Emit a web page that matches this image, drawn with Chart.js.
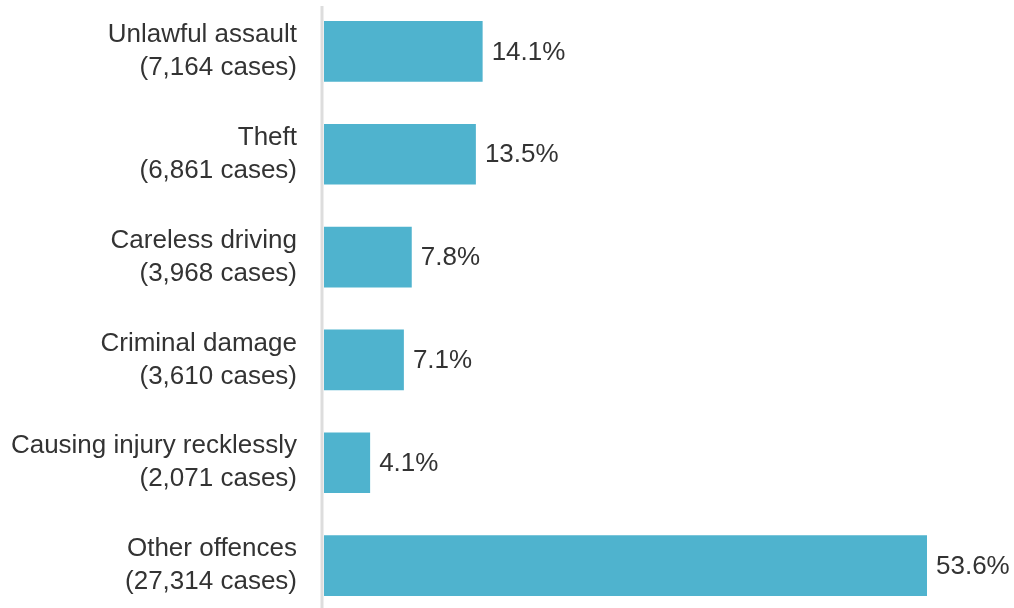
<!DOCTYPE html>
<html>
<head>
<meta charset="utf-8">
<script src="https://cdn.jsdelivr.net/npm/chart.js@4/dist/chart.umd.min.js"></script>
<style>
  html, body { margin: 0; padding: 0; background: #fff; overflow: hidden; }
  #wrap { position: relative; width: 1014px; height: 617px; }
</style>
</head>
<body>
<div id="wrap"><canvas id="c"></canvas></div>
<script>
// Offence categories, case counts and share of all cases (%)
const offences = ["Unlawful assault", "Theft", "Careless driving", "Criminal damage", "Causing injury recklessly", "Other offences"];
const caseCounts = ["7,164", "6,861", "3,968", "3,610", "2,071", "27,314"];
const shares = [14.1, 13.5, 7.8, 7.1, 4.1, 53.6];

const labels = offences.map((name, i) => [name, "(" + caseCounts[i] + " cases)"]);

const FONT = "'Liberation Sans', Arial, sans-serif";
const TEXT = "#333333";

// Percentage printed just past the end of each bar
const valueLabels = {
  id: "valueLabels",
  afterDatasetsDraw(chart) {
    const ctx = chart.ctx;
    const meta = chart.getDatasetMeta(0);
    ctx.save();
    ctx.font = "26px " + FONT;
    ctx.fillStyle = TEXT;
    ctx.textAlign = "left";
    ctx.textBaseline = "middle";
    meta.data.forEach((bar, i) => {
      ctx.fillText(shares[i].toFixed(1) + "%", bar.x + 9, bar.y + 1);
    });
    ctx.restore();
  }
};

// Light vertical baseline at the start of the bars
const baseline = {
  id: "baseline",
  beforeDatasetsDraw(chart) {
    const { ctx, chartArea } = chart;
    ctx.save();
    ctx.strokeStyle = "#dddddd";
    ctx.lineWidth = 3;
    ctx.beginPath();
    ctx.moveTo(chartArea.left - 2, chartArea.top + 6);
    ctx.lineTo(chartArea.left - 2, chartArea.bottom);
    ctx.stroke();
    ctx.restore();
  }
};

new Chart(document.getElementById("c"), {
  type: "bar",
  data: {
    labels: labels,
    datasets: [{
      data: shares,
      backgroundColor: "#4fb3ce",
      borderWidth: 0,
      barPercentage: 0.59,
      categoryPercentage: 1.0
    }]
  },
  options: {
    indexAxis: "y",
    responsive: true,
    maintainAspectRatio: false,
    animation: false,
    layout: { padding: { top: 0, right: 15, bottom: 0, left: 0 } },
    plugins: { legend: { display: false }, tooltip: { enabled: false } },
    scales: {
      x: { display: false, min: 0, max: 60 },
      y: {
        grid: { display: false, drawTicks: false },
        border: { display: false },
        afterFit(scale) {
          scale.width = 324;
          scale.paddingTop = 0;
          scale.paddingBottom = 0;
        },
        ticks: {
          color: TEXT,
          padding: 27,
          font: { family: FONT, size: 26, lineHeight: 1.27 }
        }
      }
    }
  },
  plugins: [baseline, valueLabels]
});
</script>
</body>
</html>
